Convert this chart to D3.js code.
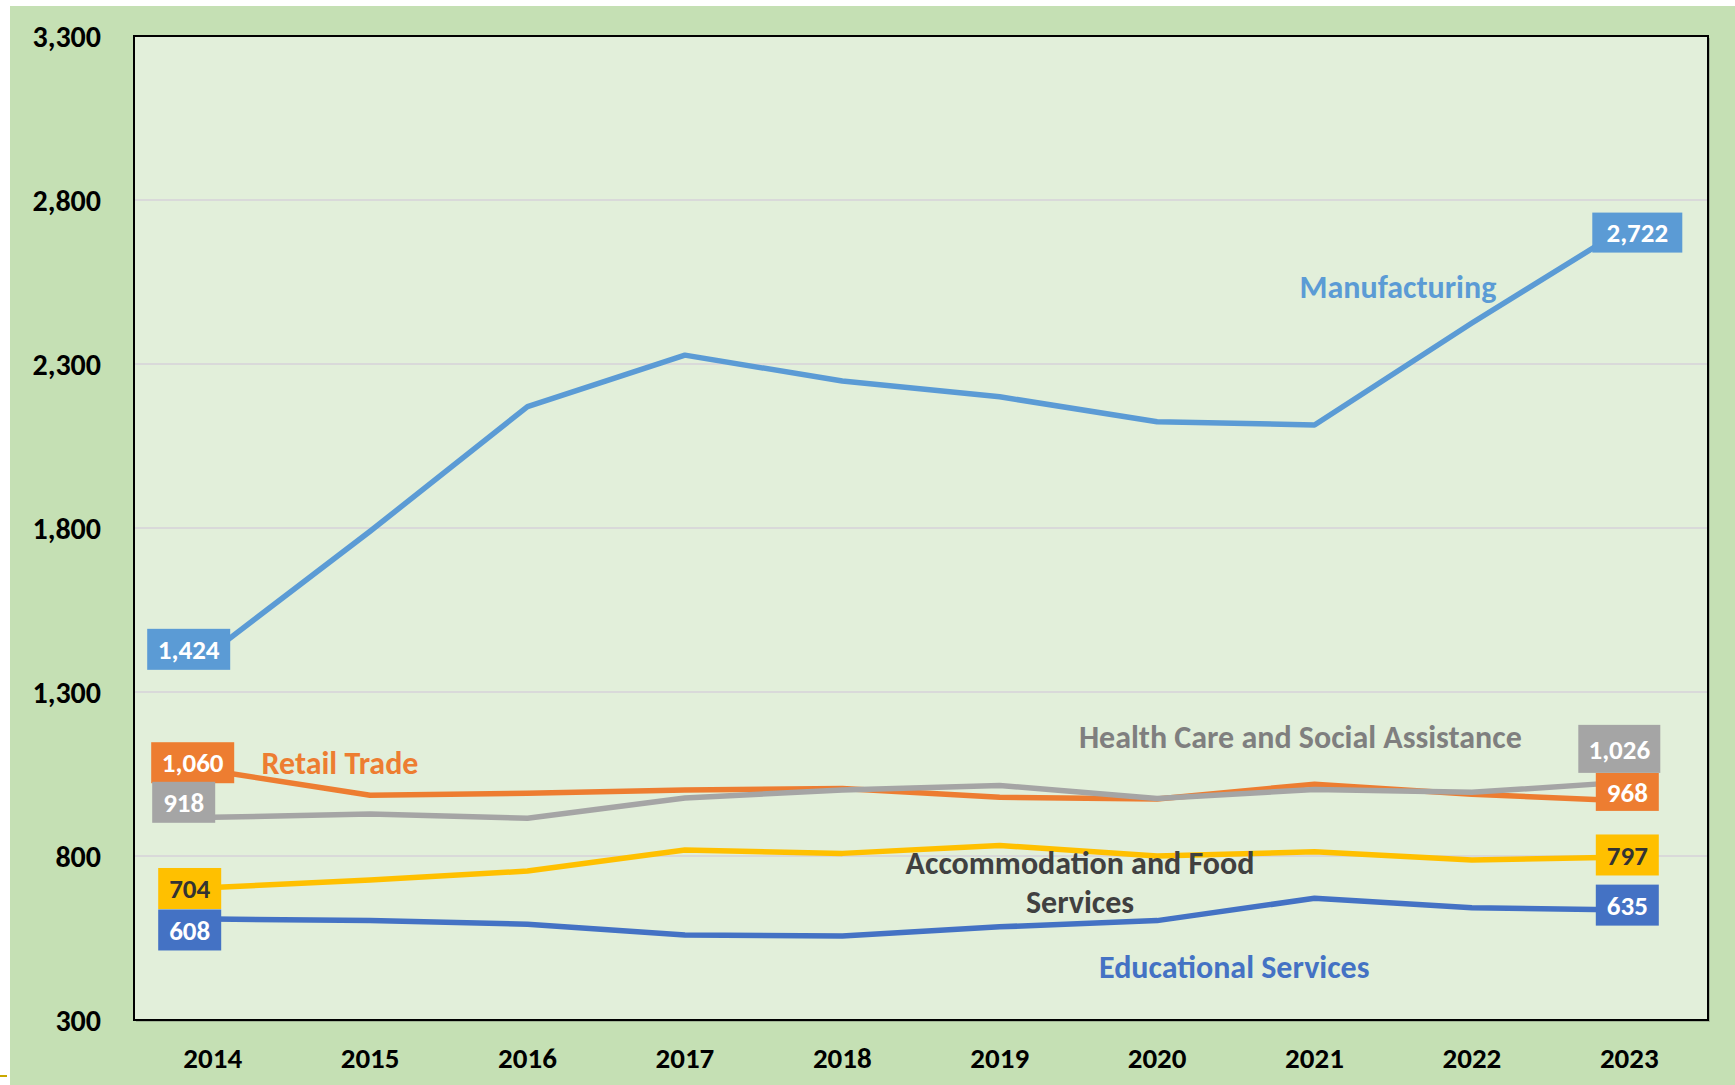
<!DOCTYPE html>
<html>
<head>
<meta charset="utf-8">
<style>
  body { margin: 0; background: #fff; }
  svg { display: block; }
  text { font-family: Carlito, Calibri, Lato, "Open Sans", sans-serif; font-weight: bold; }
</style>
</head>
<body>
<svg width="1735" height="1085"></svg>
<script src="https://cdn.jsdelivr.net/npm/d3@7"></script>
<script>

// data (thousands)
var years = [2014, 2015, 2016, 2017, 2018, 2019, 2020, 2021, 2022, 2023];
var manufacturing = [1424, 1790, 2170, 2327, 2248, 2200, 2124, 2114, 2425, 2722];
var retailTrade   = [1060, 985, 991, 1001, 1006, 979, 974, 1019, 988, 968];
var healthCare    = [918, 928, 915, 977, 1001, 1015, 975, 1003, 994, 1026];
var accommodation = [704, 727, 754, 818, 808, 832, 800, 813, 788, 797];
var educational   = [608, 603, 592, 559, 556, 584, 603, 671, 642, 635];
var yTicks = [300, 800, 1300, 1800, 2300, 2800, 3300];

var svg = d3.select("svg"),
    width = +svg.attr("width"),
    height = +svg.attr("height");

var plot = {left: 134, top: 36, right: 1708, bottom: 1020};
var fmt = d3.format(",");

var x = d3.scaleBand()
    .domain(years)
    .range([plot.left, plot.right]);
var cx = function(yr) { return x(yr) + x.bandwidth() / 2; };
// position between categories, i = fractional index from the first year
var xi = function(i) { return cx(years[0]) + i * x.step(); };

var y = d3.scaleLinear()
    .domain([300, 3300])
    .range([plot.bottom, plot.top]);

// outer background + tiny mark at the bottom left
svg.append("rect")
    .attr("x", 10).attr("y", 6)
    .attr("width", width - 10).attr("height", height - 6)
    .attr("fill", "#c5e0b4");
svg.append("rect")
    .attr("x", 0).attr("y", 1075)
    .attr("width", 7).attr("height", 2)
    .attr("fill", "#c9a800");

// plot area
svg.append("rect")
    .attr("x", plot.left + 2).attr("y", plot.top + 2)
    .attr("width", plot.right - plot.left).attr("height", plot.bottom - plot.top)
    .attr("fill", "#7f8c78").attr("opacity", 0.5);
svg.append("rect")
    .attr("x", plot.left).attr("y", plot.top)
    .attr("width", plot.right - plot.left).attr("height", plot.bottom - plot.top)
    .attr("fill", "#e2efda");

// gridlines
svg.append("g")
  .selectAll("line")
  .data(yTicks.slice(1, -1))
  .enter().append("line")
    .attr("x1", plot.left).attr("x2", plot.right)
    .attr("y1", function(d) { return y(d); })
    .attr("y2", function(d) { return y(d); })
    .attr("stroke", "#d9d9d9")
    .attr("stroke-width", 2);

// y axis labels
var yAxis = svg.append("g")
    .attr("transform", "translate(" + (plot.left - 33) + ",0)")
    .call(d3.axisLeft(y).tickValues(yTicks).tickFormat(fmt).tickSize(0).tickPadding(0));
yAxis.select(".domain").remove();
yAxis.selectAll("text")
    .attr("font-size", 30)
    .attr("font-family", null)
    .attr("fill", "#000")
    .attr("dy", "0.35em");

// x axis labels
var xAxis = svg.append("g")
    .attr("transform", "translate(0," + plot.bottom + ")")
    .call(d3.axisBottom(x).tickSize(0).tickPadding(0));
xAxis.select(".domain").remove();
xAxis.selectAll("text")
    .attr("font-size", 29)
    .attr("font-family", null)
    .attr("fill", "#000")
    .attr("dy", 0)
    .attr("y", 48);

// series, with label box offsets (px from the point) for first and last value
var series = [
  {name: "Manufacturing", values: manufacturing, color: "#5b9bd5", text: "#fff",
   first: {dx: -24, dy: -2, w: 83, h: 41}, last: {dx: 8, dy: 7, w: 90, h: 40}},
  {name: "Retail Trade", values: retailTrade, color: "#ed7d31", text: "#fff",
   first: {dx: -20, dy: -8, w: 83, h: 41}, last: {dx: -2, dy: -9, w: 63, h: 38}},
  {name: "Health Care", values: healthCare, color: "#a5a5a5", text: "#fff",
   first: {dx: -29, dy: -15, w: 63, h: 41}, last: {dx: -10, dy: -33, w: 82, h: 48}},
  {name: "Accommodation", values: accommodation, color: "#ffc000", text: "#333",
   first: {dx: -23, dy: 1, w: 63, h: 41}, last: {dx: -2, dy: -2, w: 63, h: 41}},
  {name: "Educational", values: educational, color: "#4472c4", text: "#fff",
   first: {dx: -23, dy: 11, w: 63, h: 41}, last: {dx: -2, dy: -5, w: 63, h: 41}}
];

var line = d3.line()
    .x(function(d, i) { return cx(years[i]); })
    .y(function(d) { return y(d); });

svg.append("g")
    .attr("fill", "none")
    .attr("stroke-width", 5.5)
    .attr("stroke-linejoin", "round")
  .selectAll("path")
  .data(series)
  .enter().append("path")
    .attr("stroke", function(d) { return d.color; })
    .attr("d", function(d) { return line(d.values); });

// plot border on top of the lines
svg.append("rect")
    .attr("x", plot.left).attr("y", plot.top)
    .attr("width", plot.right - plot.left).attr("height", plot.bottom - plot.top)
    .attr("fill", "none")
    .attr("stroke", "#000")
    .attr("stroke-width", 2);

// value label boxes at both ends
var boxes = [];
series.forEach(function(s) {
  boxes.push({s: s, i: 0, o: s.first});
  boxes.push({s: s, i: years.length - 1, o: s.last});
});

var box = svg.append("g")
  .selectAll("g")
  .data(boxes)
  .enter().append("g")
    .attr("transform", function(d) {
      return "translate(" + (cx(years[d.i]) + d.o.dx) + "," + (y(d.s.values[d.i]) + d.o.dy) + ")";
    });

box.append("rect")
    .attr("x", function(d) { return -d.o.w / 2; })
    .attr("y", function(d) { return -d.o.h / 2; })
    .attr("width", function(d) { return d.o.w; })
    .attr("height", function(d) { return d.o.h; })
    .attr("fill", function(d) { return d.s.color; });

box.append("text")
    .attr("text-anchor", "middle")
    .attr("dy", "0.36em")
    .attr("font-size", 27)
    .attr("fill", function(d) { return d.s.text; })
    .text(function(d) { return fmt(d.s.values[d.i]); });

// series names written in the plot
var names = [
  {lines: ["Manufacturing"], i: 7.53, v: 2500, color: "#5b9bd5", anchor: "middle"},
  {lines: ["Retail Trade"], i: 0.31, v: 1051, color: "#ed7d31", anchor: "start"},
  {lines: ["Health Care and Social Assistance"], i: 6.91, v: 1129, color: "#7f7f7f", anchor: "middle"},
  {lines: ["Accommodation and Food", "Services"], i: 5.51, v: 745, color: "#404040", anchor: "middle"},
  {lines: ["Educational Services"], i: 6.49, v: 428, color: "#4472c4", anchor: "middle"}
];

svg.append("g")
  .selectAll("text")
  .data(names)
  .enter().append("text")
    .attr("x", function(d) { return xi(d.i); })
    .attr("y", function(d) { return y(d.v); })
    .attr("text-anchor", function(d) { return d.anchor; })
    .attr("font-size", 32)
    .attr("fill", function(d) { return d.color; })
  .selectAll("tspan")
  .data(function(d) { return d.lines.map(function(t) { return {t: t, x: xi(d.i)}; }); })
  .enter().append("tspan")
    .attr("x", function(d) { return d.x; })
    .attr("dy", function(d, i) { return i ? 39 : 0; })
    .text(function(d) { return d.t; });

</script>
</body>
</html>
